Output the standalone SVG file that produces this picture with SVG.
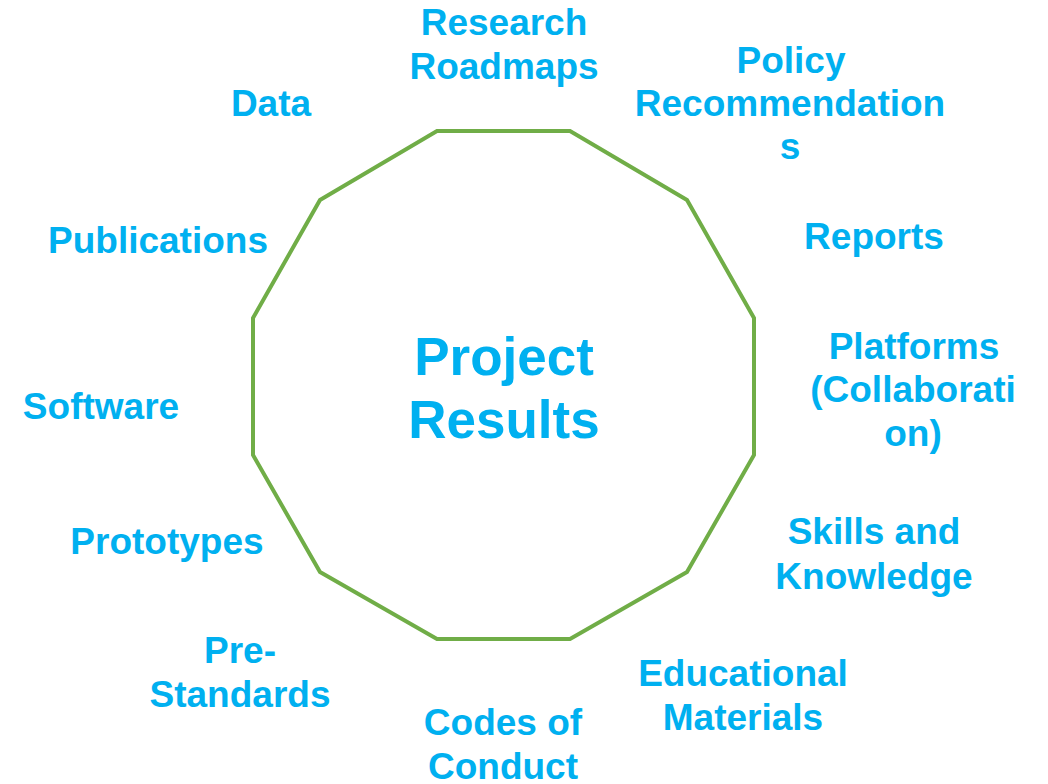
<svg xmlns="http://www.w3.org/2000/svg" width="1048" height="784" viewBox="0 0 1048 784">
<style>
.t{font-family:"Liberation Sans",Arial,sans-serif;font-weight:bold;font-size:37px;fill:#00B0F0;text-anchor:middle}
.c{font-size:53px}
</style>
<rect width="1048" height="784" fill="#FFFFFF"/>
<g id="center">
<polygon points="437,131 570,131 687,200 754,318 754,455 687,572 570,639 437,639 320,572 253,455 253,318 320,200" fill="none" stroke="#70AD47" stroke-width="4"/>
<text class="t c" x="504" y="375">Project</text>
<text class="t c" x="504" y="438">Results</text>
</g>
<g id="connectors"></g>
<g id="research"><text class="t" x="504" y="35">Research</text><text class="t" x="504" y="79">Roadmaps</text></g>
<g id="policy"><text class="t" x="791" y="73">Policy</text><text class="t" x="790" y="116">Recommendation</text><text class="t" x="790" y="159">s</text></g>
<g id="data"><text class="t" x="271" y="116">Data</text></g>
<g id="reports"><text class="t" x="874" y="249">Reports</text></g>
<g id="publications"><text class="t" x="158" y="253">Publications</text></g>
<g id="platforms"><text class="t" x="914" y="359">Platforms</text><text class="t" x="913" y="402">(Collaborati</text><text class="t" x="913" y="446">on)</text></g>
<g id="software"><text class="t" x="101" y="419">Software</text></g>
<g id="skills"><text class="t" x="874" y="544">Skills and</text><text class="t" x="874" y="589">Knowledge</text></g>
<g id="prototypes"><text class="t" x="167" y="554">Prototypes</text></g>
<g id="prestandards"><text class="t" x="240" y="663">Pre-</text><text class="t" x="240" y="707">Standards</text></g>
<g id="educational"><text class="t" x="743" y="686">Educational</text><text class="t" x="743" y="730">Materials</text></g>
<g id="codes"><text class="t" x="503" y="735">Codes of</text><text class="t" x="503" y="779">Conduct</text></g>
</svg>
